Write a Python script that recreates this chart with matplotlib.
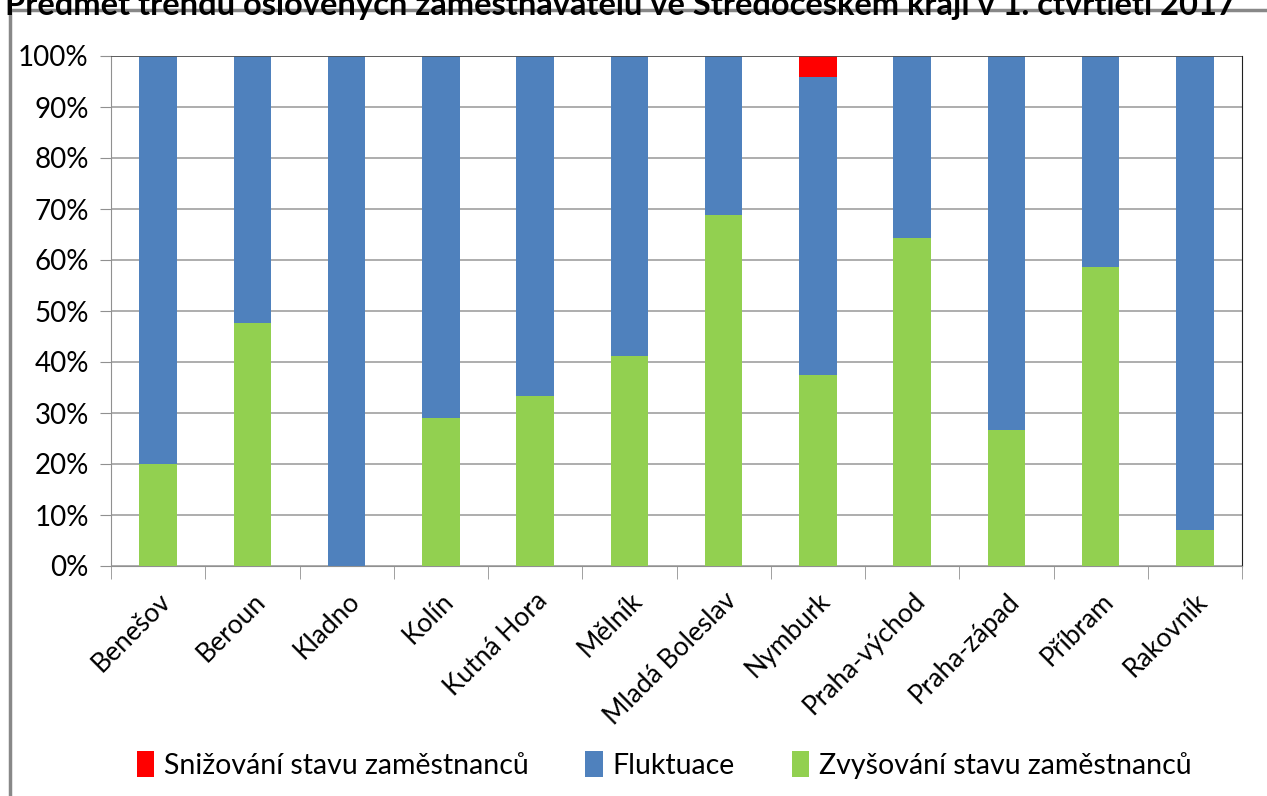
import matplotlib.pyplot as plt
import numpy as np
from matplotlib.patches import Rectangle

plt.rcParams['font.family'] = ['Lato', 'DejaVu Sans']

okresy = ["Benešov", "Beroun", "Kladno", "Kolín", "Kutná Hora", "Mělník",
          "Mladá Boleslav", "Nymburk", "Praha-východ", "Praha-západ",
          "Příbram", "Rakovník"]
zvysovani = [20.0, 47.6, 0.0, 29.0, 33.3, 41.2, 68.8, 37.5, 64.3, 26.7, 58.6, 7.1]
snizovani = [0.0, 0.0, 0.0, 0.0, 0.0, 0.0, 0.0, 4.2, 0.0, 0.0, 0.0, 0.0]
fluktuace = [100 - z - s for z, s in zip(zvysovani, snizovani)]

c_red = "#FF0000"
c_blue = "#4F81BD"
c_green = "#92D050"

fig = plt.figure(figsize=(12.67, 7.96), dpi=100)
ax = fig.add_axes([111 / 1267, 1 - 566 / 796, (1242 - 111) / 1267, (566 - 56) / 796])

x = np.arange(len(okresy))
w = 0.4
b1 = ax.bar(x, zvysovani, w, color=c_green, label="Zvyšování stavu zaměstnanců", zorder=3)
b2 = ax.bar(x, fluktuace, w, bottom=zvysovani, color=c_blue, label="Fluktuace", zorder=3)
bottom3 = [z + f for z, f in zip(zvysovani, fluktuace)]
b3 = ax.bar(x, snizovani, w, bottom=bottom3, color=c_red, label="Snižování stavu zaměstnanců", zorder=3)

ax.set_xlim(-0.5, len(okresy) - 0.5)
ax.set_ylim(0, 100)
ax.set_yticks(range(0, 101, 10))
ax.set_yticklabels([f"{v}%" for v in range(0, 101, 10)], fontsize=20)
ax.yaxis.grid(True, color="#A0A0A0", linewidth=1.2, zorder=0)
ax.tick_params(axis="y", length=8, color="#909090", pad=8)

ax.set_xticks(x)
ax.set_xticklabels(okresy, rotation=45, ha="right", rotation_mode="anchor", fontsize=19)
ax.set_xticks(np.arange(-0.5, len(okresy)), minor=True)
ax.tick_params(axis="x", which="major", length=0, pad=16)
ax.tick_params(axis="x", which="minor", length=9, color="#909090")

ax.spines["top"].set_visible(False)
ax.spines["right"].set_color("#202020")
ax.spines["left"].set_color("#909090")
ax.spines["bottom"].set_color("#909090")
ax.axhline(100, color="#505050", linewidth=1.2, zorder=4)

ax.legend(handles=[b3, b2, b1], loc="center", bbox_to_anchor=(0.489, -0.39),
          ncol=3, frameon=False, fontsize=20.5, handlelength=0.6, handleheight=1.0,
          columnspacing=2.0, handletextpad=0.35)

fig.patches.append(Rectangle((10 / 1267, -0.05), 1.2, 1.05 - 10 / 796,
                             transform=fig.transFigure, fill=False,
                             edgecolor="#888888", linewidth=2.5))
fig.text(620 / 1267, 1 - 15 / 796,
         "Předmět trendu oslovených zaměstnavatelů ve Středočeském kraji v 1. čtvrtletí 2017",
         ha="center", va="baseline", fontsize=23.5, fontweight="bold")

fig.savefig("out.png", dpi=100)
